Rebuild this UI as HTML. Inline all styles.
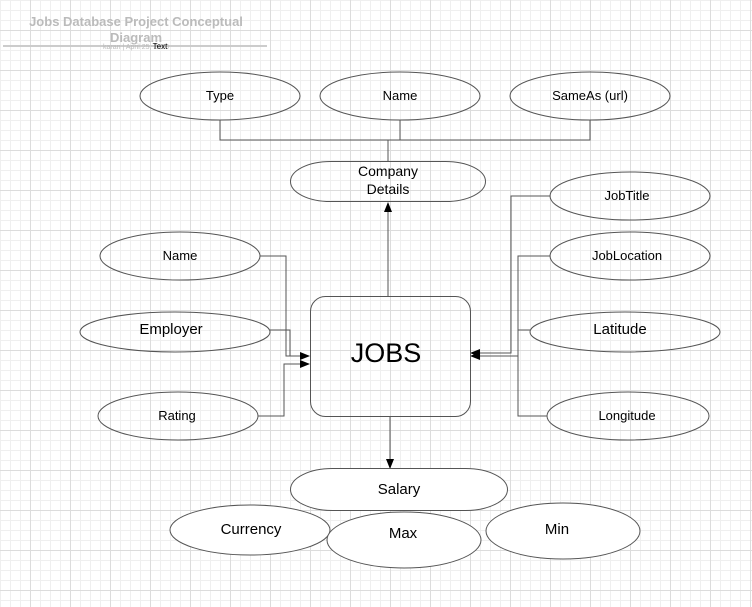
<!DOCTYPE html>
<html><head><style>
body{margin:0;width:752px;height:607px;overflow:hidden;background:#fff;
background-image:linear-gradient(#dcdcdc 1px,transparent 1px),linear-gradient(90deg,#dcdcdc 1px,transparent 1px),linear-gradient(#efefef 1px,transparent 1px),linear-gradient(90deg,#efefef 1px,transparent 1px);
background-size:40px 40px,40px 40px,10px 10px,10px 10px;background-position:30px 30px,30px 30px,0 0,0 0;font-family:"Liberation Sans",sans-serif}
</style></head><body>
<svg width="752" height="607" style="position:absolute;left:0;top:0" font-family="Liberation Sans, sans-serif">
<defs><marker id="a" markerWidth="10" markerHeight="8" refX="9" refY="4" orient="auto" markerUnits="userSpaceOnUse"><path d="M0,0L10,4L0,8z" fill="#000"/></marker></defs>
<text x="136" y="26" font-size="13" font-weight="bold" fill="#bbb" text-anchor="middle">Jobs Database Project Conceptual</text>
<text x="136" y="42" font-size="13" font-weight="bold" fill="#bbb" text-anchor="middle">Diagram</text>
<line x1="3" y1="46" x2="267" y2="46" stroke="#ccc" stroke-width="2"/>
<text x="136" y="49" font-size="7" fill="#bbb" text-anchor="middle">karan | April 25, 2020</text>
<text x="160" y="49" font-size="8" fill="#000" text-anchor="middle">Text</text>
<g fill="none" stroke="#555" stroke-width="1">
<path d="M220,120V140H590V120M400,120V140M388,140V162"/>
<path d="M388,296V203" marker-end="url(#a)"/>
<path d="M390,416V468" marker-end="url(#a)"/>
<path d="M260,256H286V356H309" marker-end="url(#a)"/>
<path d="M270,330H290V356"/>
<path d="M258,416H284V364H309" marker-end="url(#a)"/>
<path d="M550,196H511V353H471" marker-end="url(#a)"/>
<path d="M550,256H518V356H471" marker-end="url(#a)"/>
<path d="M530,330H518"/>
<path d="M547,416H518V356"/>
<rect x="310.5" y="296.5" width="160" height="120" rx="15"/>
<ellipse cx="220" cy="96" rx="80" ry="24"/>
<ellipse cx="400" cy="96" rx="80" ry="24"/>
<ellipse cx="590" cy="96" rx="80" ry="24"/>
<rect x="290.5" y="161.5" width="195" height="40" rx="40" ry="20"/>
<ellipse cx="630" cy="196" rx="80" ry="24"/>
<ellipse cx="630" cy="256" rx="80" ry="24"/>
<ellipse cx="625" cy="332" rx="95" ry="20"/>
<ellipse cx="628" cy="416" rx="81" ry="24"/>
<ellipse cx="180" cy="256" rx="80" ry="24"/>
<ellipse cx="175" cy="332" rx="95" ry="20"/>
<ellipse cx="178" cy="416" rx="80" ry="24"/>
<rect x="290.5" y="468.5" width="217" height="42" rx="42" ry="21" fill="#fff"/>
<ellipse cx="250" cy="530" rx="80" ry="25" fill="#fff"/>
<ellipse cx="563" cy="531" rx="77" ry="28" fill="#fff"/>
<ellipse cx="404" cy="540" rx="77" ry="28" fill="#fff"/>
</g>
<g font-size="13" text-anchor="middle" fill="#000">
<text x="220" y="100">Type</text><text x="400" y="100">Name</text><text x="590" y="100">SameAs (url)</text>
<text x="388" y="176" font-size="14">Company</text><text x="388" y="194" font-size="14">Details</text>
<text x="627" y="200">JobTitle</text><text x="627" y="260">JobLocation</text>
<text x="620" y="334" font-size="15">Latitude</text><text x="627" y="420">Longitude</text>
<text x="180" y="260">Name</text><text x="171" y="334" font-size="15">Employer</text><text x="177" y="420">Rating</text>
<text x="386" y="362" font-size="27">JOBS</text>
<text x="399" y="494" font-size="15">Salary</text><text x="251" y="534" font-size="15">Currency</text>
<text x="403" y="538" font-size="15">Max</text><text x="557" y="534" font-size="15">Min</text>
</g>
</svg>
</body></html>
